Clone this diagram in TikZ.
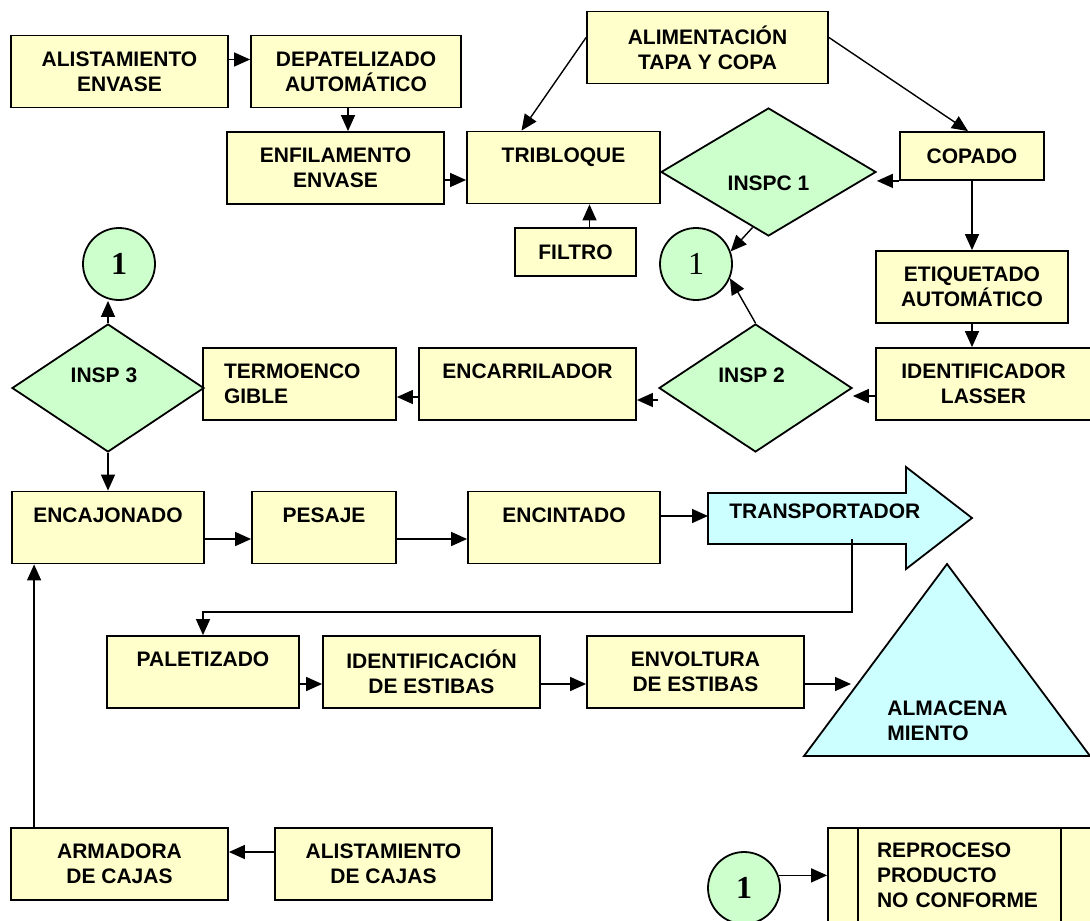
\documentclass[tikz,border=0pt]{standalone}
\usepackage{fontspec}
\setmainfont{Liberation Sans}
\newfontfamily\numfont{Liberation Serif}
\usetikzlibrary{arrows.meta,shapes.geometric}
\definecolor{boxyellow}{HTML}{FFFFCC}
\definecolor{inspgreen}{HTML}{CCFFCC}
\definecolor{transcyan}{HTML}{CCFFFF}
\begin{document}
\begin{tikzpicture}[x=0.5pt,y=-0.5pt,
    proc/.style={draw, line width=0.9pt, fill=boxyellow, minimum height=36pt, inner sep=0pt, align=center, font=\bfseries\fontsize{10.5}{12.5}\selectfont},
    insp/.style={draw, line width=0.9pt, fill=inspgreen, diamond, minimum height=64pt, inner sep=0pt},
    conn/.style={circle, draw, line width=0.9pt, fill=inspgreen, minimum size=36pt, inner sep=0pt, font=\numfont\bfseries\fontsize{16}{18}\selectfont},
    flow/.style={-{Triangle[length=8pt,width=7pt]}, line width=0.7pt},
    lbl/.style={font=\bfseries\fontsize{10.5}{12.5}\selectfont, inner sep=0pt, align=left}]
\useasboundingbox (0,0) rectangle (1090,920);
\clip (0,0) rectangle (1090,920);

\node[proc, minimum width=108.5pt] (alenv) at (119.5,71.5) {ALISTAMIENTO\\ENVASE};
\node[proc, minimum width=105pt] (depat) at (356,71.5) {DEPATELIZADO\\AUTOMÁTICO};
\node[proc, minimum width=108.5pt] (enfil) at (335.5,168) {ENFILAMENTO\\ENVASE};
\node[proc, minimum width=120.5pt] (alim) at (707.5,47.5) {ALIMENTACIÓN\\TAPA Y COPA};
\node[proc, minimum width=96.5pt] (tribl) at (563.5,167.5) {TRIBLOQUE\\~};
\node[proc, minimum width=60.5pt, minimum height=24pt] (filtro) at (575.5,252) {FILTRO};
\node[proc, minimum width=72pt, minimum height=24pt] (copado) at (972,156) {COPADO};
\node[proc, minimum width=96pt] (etiq) at (972,287) {ETIQUETADO\\AUTOMÁTICO};
\node[proc, minimum width=107.5pt] (ident) at (983.5,384) {IDENTIFICADOR\\LASSER};
\node[proc, minimum width=108.5pt] (encarr) at (527.5,384) {ENCARRILADOR\\~};
\node[proc, minimum width=96.5pt, text width=75.5pt, align=left] (termo) at (299.5,384) {TERMOENCO\\GIBLE};
\node[proc, minimum width=96pt] (encaj) at (108,527.5) {ENCAJONADO\\~};
\node[proc, minimum width=72pt] (pesaje) at (324,527.5) {PESAJE\\~};
\node[proc, minimum width=96pt] (encint) at (564,527.5) {ENCINTADO\\~};
\node[proc, minimum width=96pt] (palet) at (203,672) {PALETIZADO\\~};
\node[proc, minimum width=108.5pt] (idest) at (431.5,672) {IDENTIFICACIÓN\\DE ESTIBAS};
\node[proc, minimum width=108.5pt] (envol) at (695.5,672) {ENVOLTURA\\DE ESTIBAS};
\node[proc, minimum width=108.5pt] (armad) at (119.5,864) {ARMADORA\\DE CAJAS};
\node[proc, minimum width=108.5pt] (alcaj) at (383.5,864) {ALISTAMIENTO\\DE CAJAS};
\node[proc, minimum width=131.5pt, minimum height=47pt, text width=82.5pt, align=left] (repro) at (959.5,875) {REPROCESO\\PRODUCTO\\NO CONFORME};
\draw[line width=0.9pt] ([xshift=15.5pt]repro.north west) -- ([xshift=15.5pt]repro.south west)
    ([xshift=-15.5pt]repro.north east) -- ([xshift=-15.5pt]repro.south east);

\node[insp, minimum width=107.5pt, label={[lbl,yshift=-5.5pt]center:INSPC 1}] (insp1) at (768.5,172) {};
\node[insp, minimum width=96.5pt, label={[lbl,xshift=-2pt,yshift=6.5pt]center:INSP 2}] (insp2) at (755.5,388) {};
\node[insp, minimum width=96pt, label={[lbl,xshift=-2pt,yshift=6.5pt]center:INSP 3}] (insp3) at (108,388) {};

\node[conn] (c1) at (119,264) {1};
\node[conn, font=\numfont\fontsize{16}{18}\selectfont] (c2) at (696,264) {1};
\node[conn] (c3) at (744,888) {1};

\filldraw[fill=transcyan, line width=0.9pt] (708,493) -- (906,493) -- (906,467) -- (972,518)
    -- (906,569) -- (906,544) -- (708,544) -- cycle;
\node[lbl, anchor=west] (transp) at (729,511) {TRANSPORTADOR};
\coordinate (transpin) at (708,516);
\coordinate (transpout) at (852,539);

\filldraw[fill=transcyan, line width=0.9pt] (947,564) -- (1090,756) -- (804,756) -- cycle;
\node[lbl, anchor=west] (almac) at (887,720.5) {ALMACENA\\MIENTO};
\coordinate (almin) at (851,684);

\draw[flow] ([yshift=6pt]alenv.east) -- ([yshift=6pt]alenv.east -| depat.west);
\draw[flow] ([xshift=-4pt]depat.south) -- ([xshift=-4pt]depat.south |- enfil.north);
\draw[flow] ([yshift=-6pt]enfil.east) -- ([yshift=-6pt]enfil.east -| tribl.west);
\draw[flow] ([yshift=5pt]alim.west) -- ([xshift=-21pt]tribl.north);
\draw[flow] ([yshift=5pt]alim.east) -- ([xshift=-2pt]copado.north);
\draw[flow] ([xshift=7pt]filtro.north) -- ([xshift=7pt]filtro.north |- tribl.south);
\draw[flow] (copado.south west) -- (copado.south west -| insp1.east);
\draw[flow] (copado.south) -- (copado.south |- etiq.north);
\draw[flow] (insp1.254) -- (c2.20);
\draw[flow] (etiq.south) -- (etiq.south |- ident.north);
\draw[flow] ([yshift=-6pt]ident.west) -- ([yshift=-6pt]ident.west -| insp2.east);
\draw[flow] (insp2.north) -- (c2.-23);
\draw[flow] ([yshift=-6pt]insp2.west) -- ([yshift=-6pt]insp2.west -| encarr.east);
\draw[flow] ([yshift=-6.5pt]encarr.west) -- ([yshift=-6.5pt]encarr.west -| termo.east);
\draw[flow] (insp3.north) -- (insp3.north |- c1.south);
\draw[flow] (insp3.south) -- (encaj.north);
\draw[flow] ([yshift=-5.75pt]encaj.east) -- ([yshift=-5.75pt]encaj.east -| pesaje.west);
\draw[flow] ([yshift=-5.75pt]pesaje.east) -- ([yshift=-5.75pt]pesaje.east -| encint.west);
\draw[flow] ([yshift=5.75pt]encint.east) -- (transpin);
\draw[flow] (transpout) -- ++(0,73) -| (palet.north);
\draw[flow] ([yshift=-6pt]palet.east) -- ([yshift=-6pt]palet.east -| idest.west);
\draw[flow] ([yshift=-6pt]idest.east) -- ([yshift=-6pt]idest.east -| envol.west);
\draw[flow] ([yshift=-6pt]envol.east) -- (almin);
\draw[flow] ([yshift=6pt]alcaj.west) -- ([yshift=6pt]alcaj.west -| armad.east);
\draw[flow] ([xshift=12pt]armad.north west) -- ([xshift=12pt]armad.north west |- encaj.south);
\draw[flow] (c3.20) -- (c3.20 -| repro.west);
\end{tikzpicture}
\end{document}
